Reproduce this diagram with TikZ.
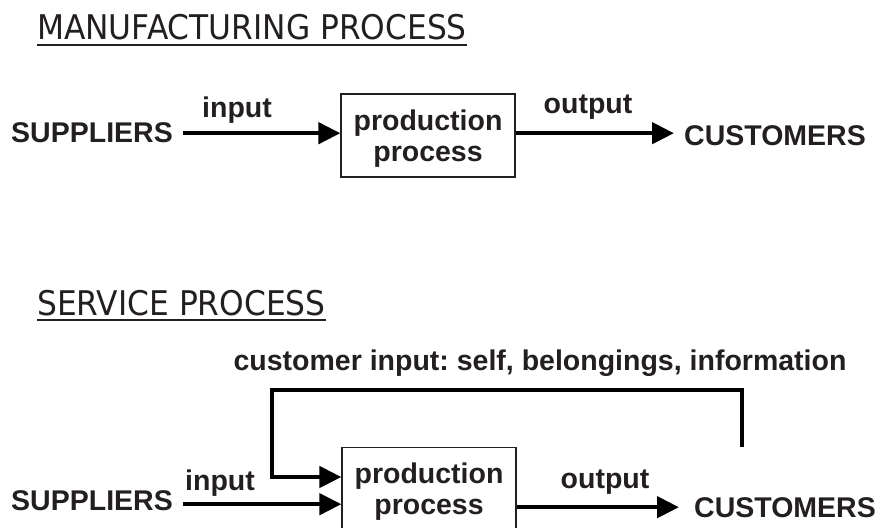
\documentclass[tikz,border=0pt]{standalone}
\usepackage{graphicx}
\usepackage{fontspec}
\setmainfont{Liberation Sans}
\newfontfamily\titlefont{DejaVu Sans}
\usetikzlibrary{arrows.meta}
\definecolor{ink}{RGB}{35,31,32}
\frenchspacing
\begin{document}
\begin{tikzpicture}[x=1pt,y=-1pt,
  lbl/.style={font=\fontsize{28.5}{31}\selectfont\bfseries, text=ink, inner sep=0pt, anchor=base},
  side/.style={lbl, inner xsep=10pt},
  ttl/.style={font=\titlefont\fontsize{34}{40}\selectfont, text=ink, inner sep=0pt, anchor=base west},
  procbox/.style={draw=ink, line width=1.2pt, minimum width=174pt, minimum height=83pt, inner sep=0pt, align=center, text depth=0pt, font=\fontsize{28.5}{31}\selectfont\bfseries, text=ink},
  arr/.style={line width=4.5pt, draw=black, -{Triangle[length=22pt,width=21pt]}, line join=miter},
  uline/.style={line width=1.5pt, draw=ink}]
\useasboundingbox (0,0) rectangle (882,527);
\clip (0,0) rectangle (882,527);

% ---------- Manufacturing process ----------
\node[ttl] (t1) at (37,40) {\scalebox{0.92}[1]{MANUFACTURING PROCESS}};
\draw[uline] ([yshift=-5pt]t1.base west) -- ([yshift=-5pt]t1.base east);

\node[side] (sup1) at (92,142) {SUPPLIERS};
\node[lbl] (in1) at (237,117) {input};
\node[procbox] (box1) at (428,135.5) {production\\process};
\node[lbl] (out1) at (588,113) {output};
\node[side] (cus1) at (775,145) {CUSTOMERS};

\draw[arr] ([yshift=-1pt]sup1.east) -- ([yshift=-1pt]sup1.east -| box1.west);
\draw[arr] ([yshift=-1pt]box1.east |- sup1.east) -- ([yshift=-1pt]cus1.west |- sup1.east);

% ---------- Service process ----------
\node[ttl] (t2) at (37,315) {\scalebox{0.92}[1]{SERVICE PROCESS}};
\draw[uline] ([yshift=-5pt]t2.base west) -- ([yshift=-5pt]t2.base east);

\node[lbl] (cin) at (540,370) {customer input: self, belongings, information};
\node[side] (sup2) at (92,510) {SUPPLIERS};
\node[lbl] (in2) at (220,490) {input};
\node[procbox] (box2) at (429,489) {production\\process};
\node[lbl] (out2) at (605,488) {output};
\node[side, inner xsep=15pt] (cus2) at (785,517) {CUSTOMERS};

\coordinate (fb) at (742,447);
\coordinate (fbl) at (272,390);
\coordinate (fbin) at (272,477);

\draw[arr] ([yshift=-4pt]sup2.east) -- ([yshift=-4pt]sup2.east -| box2.west);
\draw[arr] (fb) |- (fbl) |- (box2.west |- fbin);
\draw[arr] (box2.east |- cus2.west) -- (cus2.west);
\end{tikzpicture}
\end{document}
